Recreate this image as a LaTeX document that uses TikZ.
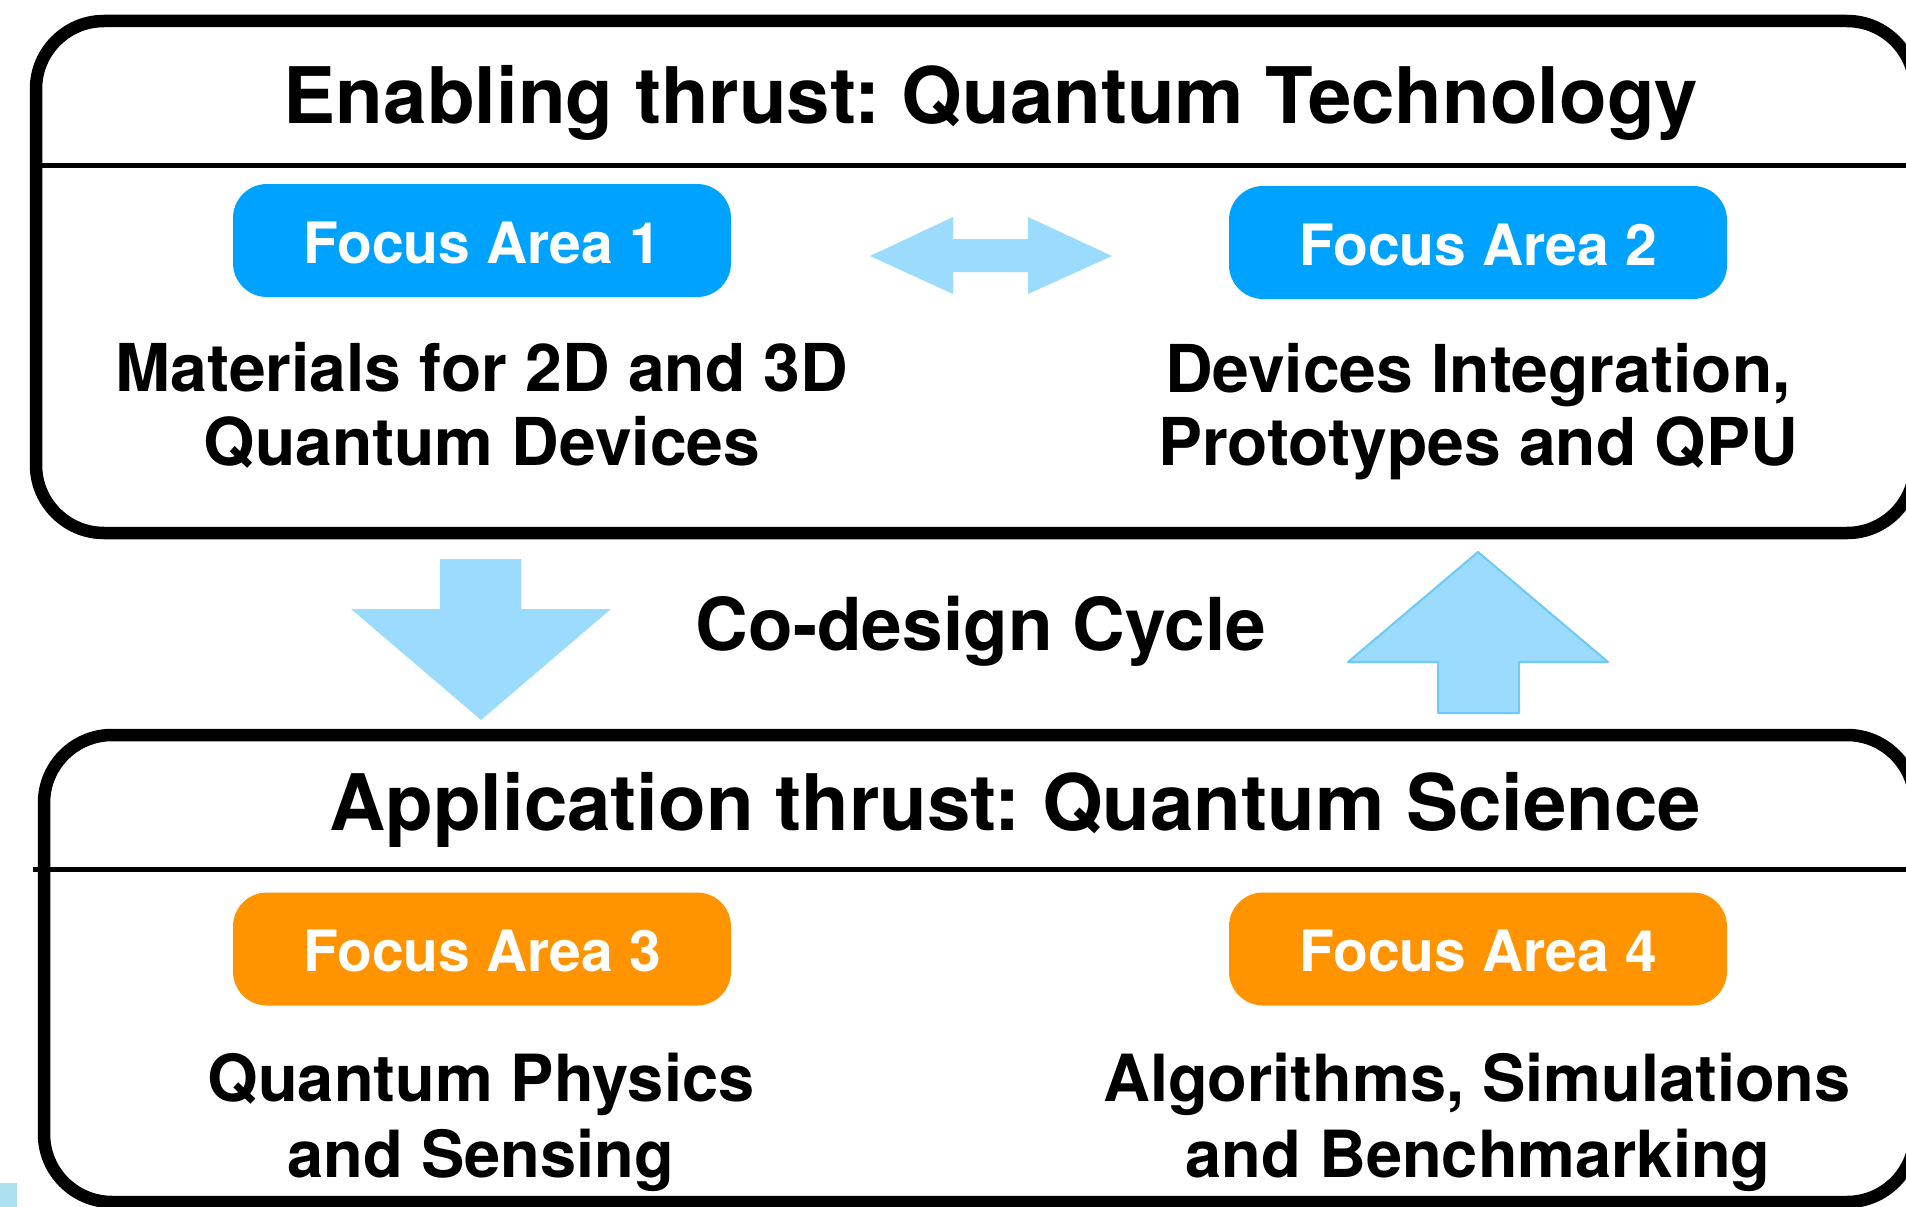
\documentclass[tikz,border=0pt]{standalone}
\usepackage{fontspec}
\setmainfont{TeX Gyre Heros}
\frenchspacing
\definecolor{focusblue}{HTML}{00A2FF}
\definecolor{focusorange}{HTML}{FF9300}
\definecolor{arrowfill}{HTML}{9BDBFD}
\definecolor{arrowedge}{HTML}{6EC8F9}
\definecolor{markcyan}{HTML}{ADE0EF}

\begin{document}
\begin{tikzpicture}[x=1pt,y=-1pt,
  panel/.style={draw=black, line width=12.5pt, rounded corners=68pt},
  divider/.style={draw=black, line width=5pt},
  titletext/.style={anchor=base, inner sep=0pt, font=\bfseries\fontsize{78}{90}\selectfont},
  bodytext/.style={anchor=base, inner sep=0pt, font=\bfseries\fontsize{66}{76}\selectfont},
  lowbodytext/.style={anchor=base, inner sep=0pt, font=\bfseries\fontsize{65}{75}\selectfont},
  cycletext/.style={anchor=base, inner sep=0pt, font=\bfseries\fontsize{73}{84}\selectfont},
  focusbox/.style={rounded corners=34pt, minimum width=498pt, minimum height=113pt, inner sep=0pt},
  focustext/.style={anchor=base, inner sep=0pt, text=white, font=\bfseries\fontsize{57}{66}\selectfont},
  blockarrow/.style={fill=arrowfill},
]
\useasboundingbox (0,0) rectangle (1906,1207);
\clip (0,0) rectangle (1906,1207);

% upper panel: enabling thrust
\draw[panel] (36,21) rectangle (1915,533);
\draw[divider] (36,165) -- (1915,165);
\node[titletext] (toptitle) at (991,123) {Enabling thrust: Quantum Technology};

\node[focusbox, fill=focusblue] (fa1box) at (482,240.5) {};
\node[focustext] (fa1) at (482,263) {Focus Area 1};
\node[focusbox, fill=focusblue] (fa2box) at (1478,242.5) {};
\node[focustext] (fa2) at (1478,265) {Focus Area 2};

\node[bodytext] (fa1a) at (482,391) {Materials for 2D and 3D};
\node[bodytext] (fa1b) at (482,465) {Quantum Devices};
\node[bodytext] (fa2a) at (1478,392) {Devices Integration,};
\node[bodytext] (fa2b) at (1478,465) {Prototypes and QPU};

% exchange between focus areas 1 and 2
\fill[blockarrow] (870,256) -- (953,217) -- (953,239) -- (1028,239) -- (1028,217)
  -- (1112,256) -- (1028,294) -- (1028,272) -- (953,272) -- (953,294) -- cycle;

% co-design cycle between the two thrusts
\fill[blockarrow] (440,559) -- (521,559) -- (521,609) -- (611,609) -- (481,720)
  -- (351,609) -- (440,609) -- cycle;
\filldraw[blockarrow, draw=arrowedge, line width=2pt, line join=round]
  (1478,552) -- (1608,662) -- (1519,662) -- (1519,713) -- (1438,713)
  -- (1438,662) -- (1348,662) -- cycle;
\node[cycletext] (cycle) at (981,650) {Co-design Cycle};

% lower panel: application thrust
\draw[panel] (44,735) rectangle (1915,1202);
\draw[divider] (33,869) -- (1915,869);
\node[titletext] (bottitle) at (1015,830) {Application thrust: Quantum Science};

\node[focusbox, fill=focusorange] (fa3box) at (482,949) {};
\node[focustext] (fa3) at (482,971) {Focus Area 3};
\node[focusbox, fill=focusorange] (fa4box) at (1478,949) {};
\node[focustext] (fa4) at (1478,971) {Focus Area 4};

\node[lowbodytext] (fa3a) at (481,1101) {Quantum Physics};
\node[lowbodytext] (fa3b) at (481,1177) {and Sensing};
\node[lowbodytext] (fa4a) at (1477,1101) {Algorithms, Simulations};
\node[lowbodytext] (fa4b) at (1478,1177) {and Benchmarking};

\fill[markcyan] (0,1183) rectangle (17,1207);
\end{tikzpicture}
\end{document}
